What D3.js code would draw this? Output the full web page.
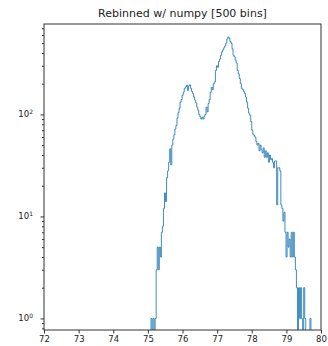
<!DOCTYPE html>
<html>
<head>
<meta charset="utf-8">
<script src="https://cdn.jsdelivr.net/npm/d3@7"></script>
<style>
  body { margin: 0; background: #fff; }
  text { font-family: "DejaVu Sans", sans-serif; fill: #222; }
</style>
</head>
<body>
<div id="chart"></div>
<script>
// histogram: first edge, bin width, counts per bin
var binStart = 75.09;
var binWidth = 0.03;
var counts = [
  1, 0, 1, 0, 1,        3, 5, 3, 5, 4,
  7, 8, 12, 17, 14,     24, 28, 34, 46, 32,
  50, 57, 63, 72, 78,   92, 104, 115, 132, 140,
  154, 165, 180, 186, 194,   172, 190, 195, 180, 168,
  160, 148, 138, 130, 118,   110, 100, 95, 90, 94,
  90, 96, 100, 118, 106,     128, 140, 165, 185, 175,
  200, 208, 270, 300, 290,   330, 350, 380, 410, 430,
  450, 470, 500, 550, 575,   560, 520, 500, 440, 380,
  367, 340, 320, 270, 250,   225, 200, 180, 175, 168,
  160, 148, 132, 115, 103,   98, 85, 70, 64, 62,
  60, 54, 50, 52, 44,        50, 45, 42, 47, 38,
  44, 38, 42, 34, 40,        36, 37, 34, 30, 35,
  35, 13, 30, 30, 28,        13, 12, 9, 11, 7,
  4, 7, 5, 6, 4,             7, 4, 7, 4, 3,
  2, 0, 2, 1, 2,             1, 0, 2, 1, 0,
  0, 0, 0, 1, 0
];
var xTicks = [72, 73, 74, 75, 76, 77, 78, 79, 80];
var yTicks = [1, 10, 100];
var yExponents = ["0", "1", "2"];
var title = "Rebinned w/ numpy [500 bins]";

var svgWidth = 328;
var svgHeight = 346;
var margin = {top: 24, right: 7, bottom: 16, left: 44};
var width = svgWidth - margin.left - margin.right;
var height = svgHeight - margin.top - margin.bottom;

var svg = d3.select("#chart")
    .append("svg")
    .attr("width", svgWidth)
    .attr("height", svgHeight);

var chartGroup = svg.append("g")
    .attr("transform", `translate(${margin.left},${margin.top})`);

var xScale = d3.scaleLinear().domain([72, 80]).range([0, width]);
var yScale = d3.scaleLog().domain([0.77, 770]).range([height, 0]);

svg.append("clipPath").attr("id", "plotclip")
  .append("rect").attr("width", width).attr("height", height);

// step outline, zero bins drop below the frame like matplotlib's clip
var pts = [[binStart, null]];
counts.forEach(function(c, i) {
    pts.push([binStart + i * binWidth, c]);
    pts.push([binStart + (i + 1) * binWidth, c]);
});
pts.push([binStart + counts.length * binWidth, null]);

var line = d3.line()
    .x(d => xScale(d[0]))
    .y(d => (d[1] && d[1] > 0) ? yScale(d[1]) : height + 5);

chartGroup.append("path")
    .attr("clip-path", "url(#plotclip)")
    .attr("d", line(pts))
    .attr("fill", "none")
    .attr("stroke", "#1f77b4")
    .attr("stroke-width", 0.85);

// axes
var xAxis = d3.axisBottom(xScale).tickValues(xTicks).tickSize(3.5).tickPadding(2).tickFormat(d3.format("d"));
var gx = chartGroup.append("g").attr("transform", `translate(0,${height})`).call(xAxis);
gx.select(".domain").remove();
gx.selectAll("text").attr("font-size", 8.5).attr("font-family", "DejaVu Sans").attr("fill", "#222");

var minor = yScale.ticks().filter(t => yTicks.indexOf(t) < 0);
var gyMinor = chartGroup.append("g").call(d3.axisLeft(yScale).tickValues(minor).tickSize(2).tickFormat(""));
gyMinor.select(".domain").remove();

var gy = chartGroup.append("g").call(d3.axisLeft(yScale).tickValues(yTicks).tickSize(3.5).tickFormat(""));
gy.select(".domain").remove();
chartGroup.selectAll(".tick line").attr("stroke", "#333");

var yLab = chartGroup.append("g").selectAll("text")
    .data(yTicks)
    .enter()
    .append("text")
    .attr("x", -11)
    .attr("y", d => yScale(d) + 3)
    .attr("text-anchor", "end")
    .attr("font-size", 8.5);
yLab.append("tspan").text("10");
yLab.append("tspan").attr("dy", -3.5).attr("font-size", 6).text((d, i) => yExponents[i]);

chartGroup.append("rect")
    .attr("width", width)
    .attr("height", height)
    .attr("fill", "none")
    .attr("stroke", "#333")
    .attr("stroke-width", 1);

svg.append("text")
    .attr("x", margin.left + width / 2)
    .attr("y", 17)
    .attr("text-anchor", "middle")
    .attr("font-size", 11)
    .text(title);
</script>
</body>
</html>
